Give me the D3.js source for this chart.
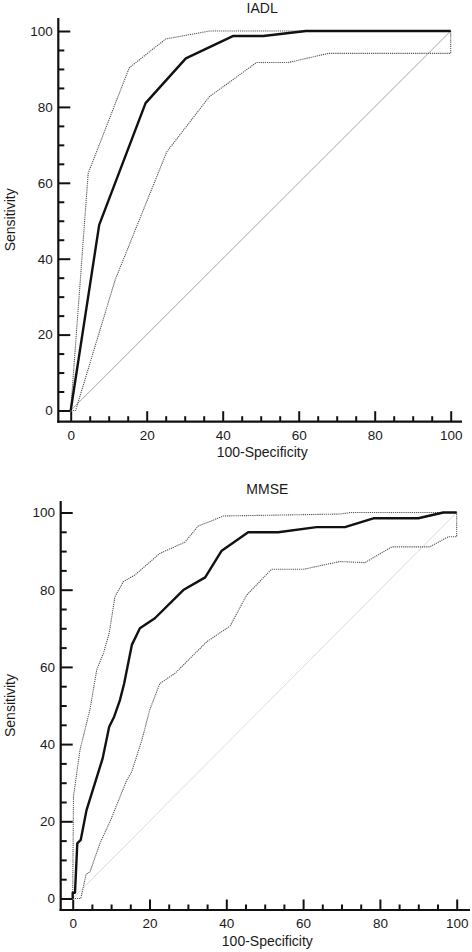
<!DOCTYPE html>
<html>
<head>
<meta charset="utf-8">
<script src="https://cdn.jsdelivr.net/npm/d3@7"></script>
<style>
  html, body { margin: 0; padding: 0; background: #fff; }
  svg { display: block; }
  text { font-family: "Liberation Sans", Arial, sans-serif; fill: #1a1a1a; }
</style>
</head>
<body>
<svg id="chart" width="472" height="952"></svg>
<script>
// ---------- DATA ----------
const majorTicks = [0, 20, 40, 60, 80, 100];
const minorTicks = [5, 10, 15, 25, 30, 35, 45, 50, 55, 65, 70, 75, 85, 90, 95];
const diagonal = [[0, 0], [100, 100]];

// IADL (100-Specificity, Sensitivity)
const iadlRoc = [[0, 0], [7.5, 48.9], [19.7, 81], [30.3, 92.8], [42.8, 98.7], [50.7, 98.7], [61.9, 100], [100, 100]];
const iadlUpper = [[0, 0], [4.6, 62.5], [15.4, 90.3], [25, 97.9], [36.5, 100], [100, 100]];
const iadlLower = [[0, 0], [1.3, 0], [11.7, 34.4], [17, 47.6], [25.3, 68.2], [36.5, 82.7], [41.9, 86.6], [48.9, 91.7], [57.3, 91.7], [67.8, 94.1], [100, 94.1], [100, 100]];

// MMSE
const mmseRoc = [[0, 0], [0, 1.5], [0.6, 1.5], [1.2, 14.3], [2.1, 15.2], [3.6, 22.9], [7.8, 36.3], [9.5, 44.5], [10.8, 47.1], [12.3, 51.4], [13.4, 55.7], [15.4, 65.7], [17.5, 70], [21.4, 72.6], [28.8, 79.9], [34.5, 83.2], [38.8, 90.1], [45.7, 94.9], [53.5, 94.9], [63.5, 96.2], [70.9, 96.2], [78.3, 98.5], [90, 98.5], [96.5, 100], [100, 100]];
const mmseUpper = [[0, 0], [0.2, 26.4], [1.9, 38.5], [4.5, 49], [6.25, 59.2], [8, 63.5], [9.5, 68.7], [11, 78.2], [13.2, 82.1], [16.2, 83.8], [22.7, 89.4], [29.2, 92.3], [32.7, 96.5], [35.6, 97.6], [39.2, 99.1], [69.6, 99.6], [72.5, 100], [100, 100]];
const mmseLower = [[0, 0], [2.1, 0], [3.5, 6.3], [4.5, 6.9], [7.1, 14.3], [9.7, 19.9], [14.1, 30.7], [15.4, 32.9], [18, 41], [20.1, 49], [22.7, 55.7], [26.6, 58.3], [34.9, 66.5], [41, 70.6], [45.3, 78.6], [51.8, 85.3], [60.1, 85.3], [69.6, 87.3], [76.1, 87], [83.1, 91.1], [93, 91.1], [97.8, 93.7], [100, 93.7], [100, 100]];

const titles = ["IADL", "MMSE"];
const xTitle = "100-Specificity";
const yTitle = "Sensitivity";

// ---------- DRAW ----------
const svg = d3.select("#chart");

function drawPanel(opt) {
  const x = d3.scaleLinear().domain([0, 100]).range(opt.xRange);
  const y = d3.scaleLinear().domain([0, 100]).range(opt.yRange);
  const g = svg.append("g");
  const line = d3.line().x(d => x(d[0])).y(d => y(d[1]));

  // diagonal
  g.append("path").attr("d", line(diagonal))
    .attr("fill", "none").attr("stroke", opt.diagColor).attr("stroke-width", 1);

  // confidence bounds
  [opt.upper, opt.lower].forEach(arr => {
    g.append("path").attr("d", line(arr))
      .attr("fill", "none").attr("stroke", "#555")
      .attr("stroke-width", 1.1).attr("stroke-dasharray", "1.2,0.9");
  });

  // ROC curve
  g.append("path").attr("d", line(opt.roc))
    .attr("fill", "none").attr("stroke", "#111").attr("stroke-width", 2.4)
    .attr("stroke-linejoin", "round");

  // y axis (ticks inward)
  const yAx = g.append("g").attr("transform", `translate(${opt.axisX},0)`);
  yAx.call(d3.axisLeft(y).tickValues(majorTicks).tickSize(-12).tickPadding(5.6).tickFormat(d3.format("d")));
  yAx.append("g").call(d3.axisLeft(y).tickValues(minorTicks).tickSize(-6).tickFormat(""));
  yAx.selectAll(".domain").remove();

  // x axis (ticks inward)
  const xAx = g.append("g").attr("transform", `translate(0,${opt.axisY})`);
  xAx.call(d3.axisBottom(x).tickValues(majorTicks).tickSize(-10.5).tickPadding(8).tickFormat(d3.format("d")));
  xAx.append("g").call(d3.axisBottom(x).tickValues(minorTicks).tickSize(-5.5).tickFormat(""));
  xAx.selectAll(".domain").remove();

  g.selectAll(".tick line").attr("stroke", "#111").attr("stroke-width", 2);
  g.selectAll(".tick text").attr("font-size", "13.5px").attr("fill", "#1a1a1a")
    .attr("font-family", "'Liberation Sans', Arial, sans-serif");
  xAx.selectAll(".tick text").attr("dy", null).attr("y", null)
    .attr("transform", "translate(0,17.8)");

  // axis lines
  g.append("line").attr("x1", opt.axisX).attr("x2", opt.axisX)
    .attr("y1", opt.axisTop).attr("y2", opt.axisY + 1)
    .attr("stroke", "#111").attr("stroke-width", 2.2);
  g.append("line").attr("x1", opt.axisX - 1).attr("x2", opt.axisRight)
    .attr("y1", opt.axisY).attr("y2", opt.axisY)
    .attr("stroke", "#111").attr("stroke-width", 2.2);

  const cx = (opt.axisX + opt.axisRight) / 2;
  // title
  g.append("text").attr("x", cx + 2).attr("y", opt.titleY)
    .attr("text-anchor", "middle").attr("font-size", "14px").text(opt.title);
  // x title
  g.append("text").attr("x", cx + 2).attr("y", opt.xTitleY)
    .attr("text-anchor", "middle").attr("font-size", "14px").text(xTitle);
  // y title
  const cy = (opt.axisTop + opt.axisY) / 2;
  g.append("text").attr("transform", `translate(15,${cy}) rotate(-90)`)
    .attr("text-anchor", "middle").attr("font-size", "14px").text(yTitle);
}

drawPanel({
  xRange: [70.7, 450.7], yRange: [410.5, 31],
  axisX: 58.3, axisY: 421.7, axisTop: 18, axisRight: 462,
  titleY: 12.5, xTitleY: 457, title: titles[0],
  roc: iadlRoc, upper: iadlUpper, lower: iadlLower, diagColor: "#a8a8a8"
});

drawPanel({
  xRange: [72.7, 456.7], yRange: [898.5, 512.5],
  axisX: 60.7, axisY: 910, axisTop: 501, axisRight: 470,
  titleY: 494, xTitleY: 945.5, title: titles[1],
  roc: mmseRoc, upper: mmseUpper, lower: mmseLower, diagColor: "#dcdcdc"
});
</script>
</body>
</html>
